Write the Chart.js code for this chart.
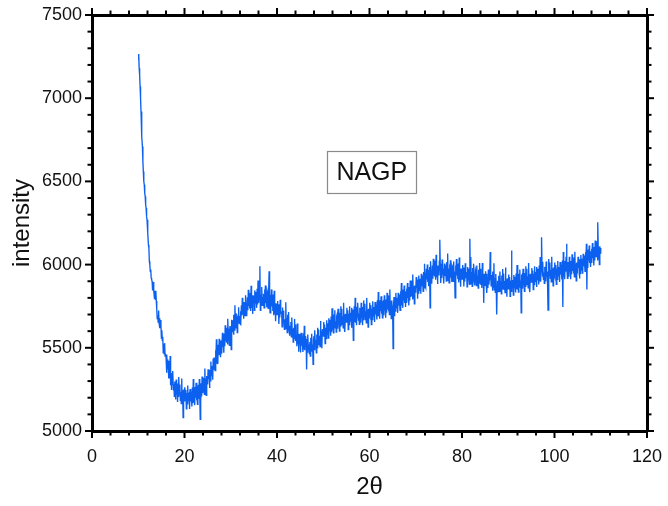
<!DOCTYPE html>
<html>
<head>
<meta charset="utf-8">
<script src="https://cdn.jsdelivr.net/npm/chart.js@4.4.1/dist/chart.umd.min.js"></script>
<style>
  html, body { margin: 0; padding: 0; background: #ffffff; }
  #wrap { width: 668px; height: 506px; }
</style>
</head>
<body>
<div id="wrap"><canvas id="c" width="668" height="506"></canvas></div>
<script>
// ---- data ----
const twoThetaStart = 10;     // first 2θ value of the scan
const twoThetaStep = 0.1;     // spacing of the scan
const intensity = [
  7230, 7265, 7180, 7140, 7070, 7000, 6920, 6860, 6770, 6710,
  6620, 6560, 6500, 6480, 6430, 6410, 6360, 6340, 6290, 6270,
  6220, 6190, 6120, 6100, 6020, 6000, 5960, 5970, 5920, 5910,
  5898, 5845, 5895, 5840, 5845, 5797, 5843, 5792, 5843, 5782,
  5730, 5676, 5696, 5654, 5724, 5650, 5677, 5618, 5667, 5641,
  5559, 5605, 5545, 5566, 5471, 5524, 5464, 5528, 5450, 5458,
  5450, 5350, 5460, 5375, 5430, 5370, 5315, 5420, 5315, 5450,
  5275, 5338, 5246, 5349, 5277, 5360, 5248, 5281, 5209, 5297,
  5275, 5190, 5310, 5220, 5250, 5175, 5285, 5205, 5325, 5225,
  5280, 5185, 5235, 5165, 5315, 5180, 5245, 5080, 5250, 5210,
  5178, 5263, 5198, 5248, 5133, 5228, 5163, 5273, 5183, 5213,
  5222, 5132, 5252, 5177, 5242, 5192, 5147, 5262, 5167, 5312,
  5170, 5240, 5155, 5265, 5200, 5290, 5185, 5225, 5160, 5255,
  5277, 5192, 5312, 5222, 5070, 5177, 5287, 5207, 5327, 5227,
  5320, 5230, 5285, 5220, 5375, 5245, 5315, 5215, 5330, 5295,
  5280, 5371, 5312, 5368, 5259, 5360, 5301, 5417, 5333, 5369,
  5390, 5308, 5436, 5369, 5442, 5400, 5363, 5486, 5399, 5552,
  5405, 5481, 5402, 5518, 5459, 5555, 5456, 5502, 5443, 5544,
  5545, 5465, 5590, 5505, 5540, 5470, 5585, 5510, 5635, 5540,
  5620, 5530, 5585, 5520, 5675, 5545, 5615, 5515, 5630, 5605,
  5630, 5490, 5668, 5597, 5666, 5620, 5579, 5698, 5607, 5756,
  5620, 5709, 5648, 5702, 5591, 5690, 5649, 5743, 5657, 5691,
  5645, 5720, 5640, 5755, 5695, 5800, 5700, 5735, 5675, 5775,
  5775, 5693, 5816, 5729, 5762, 5690, 5803, 5726, 5849, 5752,
  5830, 5737, 5789, 5721, 5873, 5740, 5807, 5704, 5816, 5778,
  5815, 5725, 5845, 5770, 5835, 5785, 5740, 5855, 5760, 5905,
  5770, 5855, 5790, 5990, 5725, 5820, 5755, 5865, 5775, 5805,
  5755, 5825, 5740, 5850, 5785, 5875, 5768, 5808, 5743, 5838,
  5825, 5737, 5854, 5960, 5788, 5710, 5817, 5734, 5851, 5748,
  5820, 5722, 5769, 5696, 5843, 5705, 5767, 5659, 5766, 5723,
  5700, 5782, 5714, 5761, 5643, 5735, 5682, 5789, 5706, 5708,
  5720, 5626, 5742, 5663, 5724, 5670, 5611, 5672, 5633, 5774,
  5615, 5681, 5592, 5698, 5629, 5715, 5606, 5632, 5573, 5624,
  5655, 5566, 5682, 5588, 5614, 5535, 5621, 5557, 5673, 5569,
  5640, 5542, 5573, 5510, 5646, 5522, 5584, 5476, 5582, 5538,
  5565, 5472, 5590, 5512, 5575, 5522, 5475, 5587, 5490, 5632,
  5485, 5570, 5505, 5555, 5370, 5535, 5470, 5580, 5490, 5520,
  5465, 5535, 5450, 5560, 5495, 5585, 5480, 5520, 5400, 5550,
  5570, 5485, 5605, 5515, 5545, 5470, 5580, 5500, 5620, 5520,
  5610, 5519, 5573, 5507, 5661, 5530, 5599, 5498, 5612, 5576,
  5570, 5655, 5590, 5640, 5525, 5620, 5555, 5665, 5575, 5605,
  5648, 5558, 5678, 5603, 5668, 5618, 5573, 5688, 5593, 5738,
  5605, 5675, 5590, 5700, 5635, 5725, 5620, 5660, 5595, 5690,
  5700, 5615, 5735, 5645, 5675, 5600, 5710, 5630, 5750, 5650,
  5735, 5640, 5690, 5620, 5770, 5635, 5700, 5595, 5705, 5665,
  5655, 5740, 5675, 5725, 5610, 5705, 5640, 5750, 5660, 5690,
  5710, 5620, 5740, 5665, 5730, 5545, 5635, 5750, 5655, 5800,
  5651, 5721, 5636, 5746, 5681, 5771, 5666, 5706, 5641, 5736,
  5735, 5650, 5770, 5680, 5710, 5635, 5745, 5665, 5785, 5685,
  5765, 5670, 5720, 5650, 5800, 5665, 5730, 5625, 5735, 5695,
  5685, 5770, 5705, 5755, 5640, 5735, 5670, 5780, 5690, 5720,
  5745, 5655, 5775, 5700, 5765, 5715, 5670, 5785, 5690, 5835,
  5690, 5760, 5675, 5785, 5720, 5810, 5705, 5745, 5680, 5775,
  5780, 5695, 5815, 5725, 5755, 5680, 5790, 5710, 5830, 5730,
  5815, 5720, 5770, 5700, 5850, 5715, 5780, 5675, 5785, 5745,
  5735, 5495, 5755, 5805, 5690, 5785, 5720, 5830, 5740, 5770,
  5800, 5710, 5830, 5755, 5820, 5770, 5725, 5840, 5745, 5890,
  5755, 5825, 5740, 5850, 5785, 5875, 5770, 5810, 5745, 5840,
  5855, 5770, 5890, 5800, 5830, 5755, 5865, 5785, 5905, 5805,
  5905, 5810, 5860, 5790, 5940, 5805, 5870, 5765, 5875, 5835,
  5840, 5925, 5860, 5910, 5795, 5890, 5825, 5935, 5845, 5875,
  5915, 5825, 5945, 5870, 5935, 5885, 5840, 5955, 5860, 6005,
  5880, 5950, 5865, 5975, 5910, 6000, 5895, 5935, 5870, 5965,
  5985, 5740, 6020, 5930, 5960, 5885, 5995, 5915, 6035, 5935,
  6024, 5929, 5979, 5909, 6059, 5924, 5989, 5884, 5994, 5954,
  5935, 6020, 6150, 6005, 5890, 5985, 5920, 6030, 5940, 5970,
  5976, 5886, 6006, 5931, 5996, 5946, 5901, 6016, 5921, 6066,
  5906, 5976, 5891, 6001, 5936, 6026, 5921, 5961, 5896, 5991,
  5984, 5899, 6019, 5929, 5959, 5800, 5994, 5914, 6034, 5934,
  6007, 5912, 5962, 5892, 6042, 5907, 5972, 5867, 5977, 5937,
  5913, 5998, 5933, 5983, 5868, 5963, 5898, 6008, 5918, 5948,
  5956, 5866, 5986, 5911, 5976, 5926, 5881, 6155, 5901, 6046,
  5885, 5955, 5870, 5980, 5915, 6005, 5900, 5940, 5875, 5970,
  5959, 5874, 5994, 5904, 5934, 5859, 5969, 5889, 6009, 5909,
  5975, 5880, 5930, 5860, 6010, 5875, 5940, 5770, 5945, 5905,
  5875, 5960, 5895, 5945, 5830, 5925, 5860, 5970, 5880, 5910,
  5918, 6075, 5948, 5873, 5938, 5888, 5843, 5958, 5863, 6008,
  5848, 5918, 5833, 5943, 5878, 5700, 5863, 5903, 5838, 5933,
  5924, 5839, 5959, 5869, 5899, 5824, 5934, 5854, 5974, 5874,
  5947, 5852, 5902, 5832, 5982, 5847, 5912, 5807, 5917, 5877,
  5855, 5940, 5875, 5925, 5810, 5905, 5840, 6085, 5860, 5890,
  5907, 5817, 5937, 5862, 5927, 5877, 5832, 5947, 5852, 5997,
  5850, 5920, 5835, 5945, 5880, 5970, 5865, 5905, 5710, 5935,
  5940, 5855, 5975, 5885, 5915, 5840, 5950, 5870, 5990, 5890,
  5975, 5880, 5930, 5860, 6010, 5875, 5940, 5835, 5945, 5905,
  5895, 5980, 5915, 5965, 5850, 5945, 5880, 5990, 5900, 5930,
  5955, 5865, 5985, 5910, 5975, 5925, 5880, 5995, 5900, 6045,
  5897, 5967, 6165, 5992, 5927, 6017, 5912, 5952, 5887, 5982,
  5983, 5898, 6018, 5928, 5958, 5883, 5726, 5913, 6033, 5933,
  6012, 5917, 5967, 5897, 6047, 5912, 5977, 5872, 5982, 5942,
  5927, 6012, 5947, 5997, 5882, 5977, 5912, 6022, 5932, 5962,
  5985, 5895, 6015, 5940, 6005, 5955, 5910, 6025, 5745, 6075,
  5927, 5997, 5912, 6022, 5957, 6047, 6125, 5982, 5917, 6012,
  6012, 5927, 6047, 5957, 5987, 5912, 6022, 5942, 6062, 5962,
  6042, 5947, 5997, 5927, 6077, 5942, 6007, 5902, 6012, 5972,
  5962, 6047, 5982, 6032, 5917, 6012, 5947, 6057, 5967, 5997,
  6035, 5945, 6065, 5990, 6055, 6005, 5960, 6075, 5980, 6125,
  5850, 6065, 5980, 6090, 6025, 6115, 6010, 6050, 5985, 6080,
  6095, 6010, 6130, 6040, 6070, 5995, 6105, 6025, 6145, 6045,
  6140, 6045, 6095, 6025, 6255, 6040, 6105, 6000, 6110, 6070,
  6100
];
const xTickLabels = [0, 20, 40, 60, 80, 100, 120];
const yTickLabels = [5000, 5500, 6000, 6500, 7000, 7500];
const sampleName = 'NAGP';
const xTitle = '2θ';
const yTitle = 'intensity';

// ---- build the point table for the library ----
const points = intensity.map((v, i) => ({ x: +(twoThetaStart + i * twoThetaStep).toFixed(2), y: v }));

const FONT = '"Liberation Sans", Arial, sans-serif';

// sample label box, placed in data space
const labelBox = {
  id: 'labelBox',
  afterDatasetsDraw(chart) {
    const { ctx, scales } = chart;
    const cx = scales.x.getPixelForValue(60.5);
    const cy = scales.y.getPixelForValue(6555);
    ctx.save();
    ctx.font = '25px ' + FONT;
    const w = 89, h = 42;
    ctx.strokeStyle = '#8a8a8a';
    ctx.lineWidth = 1.2;
    ctx.strokeRect(Math.round(cx - w / 2) + 0.5, Math.round(cy - h / 2) + 0.5, w, h);
    ctx.fillStyle = '#111';
    ctx.textAlign = 'center';
    ctx.textBaseline = 'middle';
    ctx.fillText(sampleName, cx, cy + 1);
    ctx.restore();
  }
};

// major / minor tick marks, taken from each scale's own ticks
const tickMarks = {
  id: 'tickMarks',
  afterDraw(chart) {
    const { ctx, chartArea: a } = chart;
    ctx.save();
    ctx.strokeStyle = '#000';
    ctx.lineWidth = 2;
    const defs = [
      ['x', xTickLabels, (p, L) => [p, a.bottom, p, a.bottom + L]],
      ['x2', xTickLabels, (p, L) => [p, a.top, p, a.top - L]],
      ['y', yTickLabels, (p, L) => [a.left, p, a.left - L, p]],
      ['y2', yTickLabels, (p, L) => [a.right, p, a.right + L, p]]
    ];
    defs.forEach(([id, majors, seg]) => {
      const s = chart.scales[id];
      s.ticks.forEach((t) => {
        const p = s.getPixelForValue(t.value);
        const L = majors.includes(t.value) ? 7 : 4.5;
        const [x1, y1, x2, y2] = seg(p, L);
        ctx.beginPath();
        ctx.moveTo(x1, y1);
        ctx.lineTo(x2, y2);
        ctx.stroke();
      });
    });
    ctx.restore();
  }
};

const axisCommon = {
  border: { display: true, color: '#000', width: 3 },
  grid: { drawOnChartArea: false, drawTicks: false, color: '#000' }
};
const fitH = (h) => (s) => { s.height = h; s.paddingLeft = 0; s.paddingRight = 0; };
const fitV = (w) => (s) => { s.width = w; s.paddingTop = 0; s.paddingBottom = 0; };

new Chart(document.getElementById('c'), {
  type: 'line',
  data: {
    datasets: [{
      data: points,
      borderColor: '#0c60f0',
      borderWidth: 1.35,
      pointRadius: 0,
      tension: 0,
      fill: false
    }]
  },
  options: {
    responsive: false,
    animation: false,
    events: [],
    layout: { padding: 0 },
    plugins: { legend: { display: false }, tooltip: { enabled: false } },
    scales: {
      x: {
        type: 'linear', position: 'bottom', min: 0, max: 120,
        ...axisCommon,
        ticks: {
          stepSize: 4, autoSkip: false, maxRotation: 0, padding: 15,
          color: '#111', font: { family: FONT, size: 18 },
          callback: (v) => xTickLabels.includes(v) ? String(v) : ''
        },
        title: { display: true, text: xTitle, color: '#111', font: { family: FONT, size: 24 }, padding: { top: 0, bottom: 4 } },
        afterFit: fitH(75)
      },
      x2: {
        type: 'linear', position: 'top', min: 0, max: 120,
        ...axisCommon,
        ticks: { stepSize: 4, autoSkip: false, display: false, callback: () => '' },
        afterFit: fitH(15)
      },
      y: {
        type: 'linear', position: 'left', min: 5000, max: 7500,
        ...axisCommon,
        ticks: {
          stepSize: 100, autoSkip: false, padding: 10,
          color: '#111', font: { family: FONT, size: 18 },
          callback: (v) => yTickLabels.includes(v) ? String(v) : ''
        },
        title: { display: true, text: yTitle, color: '#111', font: { family: FONT, size: 24 }, padding: { top: 8, bottom: 0 } },
        afterFit: fitV(92)
      },
      y2: {
        type: 'linear', position: 'right', min: 5000, max: 7500,
        ...axisCommon,
        ticks: { stepSize: 100, autoSkip: false, display: false, callback: () => '' },
        afterFit: fitV(21)
      }
    }
  },
  plugins: [labelBox, tickMarks]
});
</script>
</body>
</html>
